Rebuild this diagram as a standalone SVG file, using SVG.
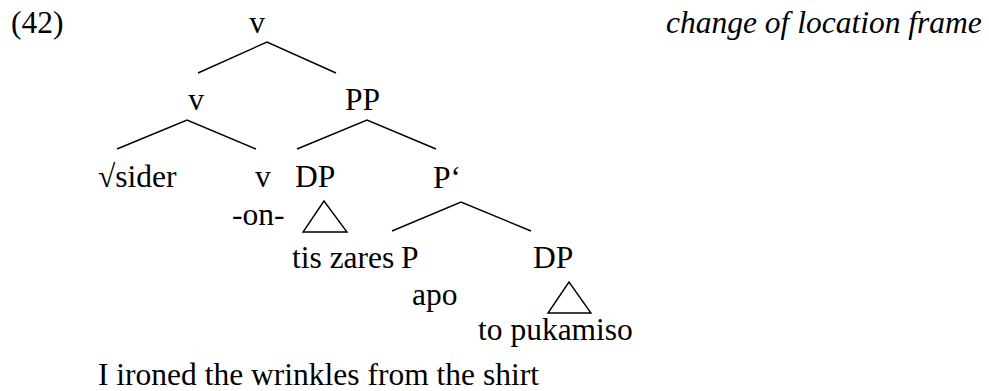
<svg xmlns="http://www.w3.org/2000/svg" width="989" height="391" viewBox="0 0 989 391">
  <style>
    text { font-family: "Liberation Serif", "Times New Roman", serif; font-size: 31.5px; fill: #000; }
    .it { font-style: italic; }
    .edge { stroke: #000; stroke-width: 1.4; fill: none; stroke-linecap: butt; }
  </style>
  <rect width="989" height="391" fill="#fff"/>

  <text id="example-number" x="11" y="33">(42)</text>
  <text id="frame-label" class="it" x="666" y="33">change of location frame</text>

  <!-- tree branches -->
  <g id="connectors">
    <polyline class="edge" points="198,73 267,42 336,73"/>
    <polyline class="edge" points="117,149 187,120 256,149"/>
    <polyline class="edge" points="297,149 367,120 436,149"/>
    <polyline class="edge" points="392,231 461,202 531,231"/>
    <polygon class="edge" points="324,201 303,232 347,232"/>
    <polygon class="edge" points="569,282 548,313 591,313"/>
  </g>

  <g id="node-v-top"><text x="257" y="33" text-anchor="middle">v</text></g>
  <g id="node-v-mid"><text x="196" y="110" text-anchor="middle">v</text></g>
  <g id="node-PP"><text x="345" y="110">PP</text></g>
  <g id="node-root"><text x="98" y="187">√sider</text></g>
  <g id="node-v-low">
    <text x="255" y="187">v</text>
    <text x="232" y="225">-on-</text>
  </g>
  <g id="node-DP1">
    <text x="295" y="187">DP</text>
    <text x="292" y="268">tis zares</text>
  </g>
  <g id="node-Pbar"><text x="433" y="188">P‘</text></g>
  <g id="node-P">
    <text x="401" y="268">P</text>
    <text x="412" y="305">apo</text>
  </g>
  <g id="node-DP2">
    <text x="533" y="268">DP</text>
    <text x="478" y="340">to pukamiso</text>
  </g>

  <text id="gloss" x="98" y="385">I ironed the wrinkles from the shirt</text>
</svg>
